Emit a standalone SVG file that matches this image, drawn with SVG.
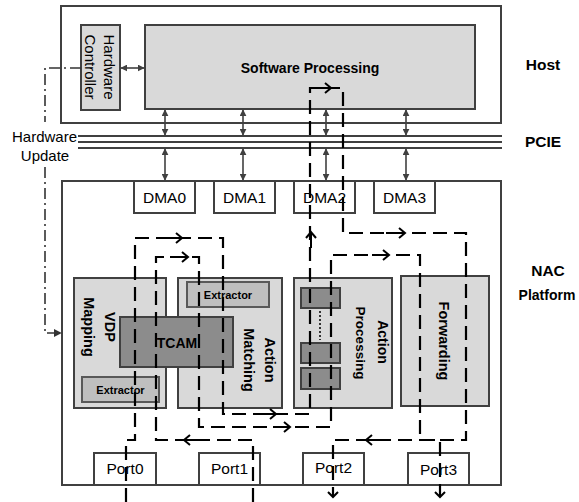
<svg xmlns="http://www.w3.org/2000/svg" width="579" height="502" viewBox="0 0 579 502">
<defs>
<style>
.box{fill:#fff;stroke:#404040;stroke-width:2}
.gray{fill:#d9d9d9;stroke:#404040;stroke-width:2}
.ext{fill:#bfbfbf;stroke:#595959;stroke-width:2}
.dark{fill:#8c8c8c;stroke:#404040;stroke-width:2}
text{font-family:"Liberation Sans",Arial,sans-serif;fill:#000}
.lbl{font-size:15.5px;text-anchor:middle}
.b{font-weight:bold}
.rc{text-anchor:middle;dominant-baseline:central}
.bus{stroke:#404040;stroke-width:2;fill:none}
.dbl{stroke:#404040;stroke-width:1.6;fill:none;marker-start:url(#ah);marker-end:url(#ah)}
.flow{stroke:#000;stroke-width:2.2;fill:none;stroke-dasharray:14 7}
.arr{stroke:#000;stroke-width:2;fill:none}
.dd{stroke:#333;stroke-width:1.6;fill:none;stroke-dasharray:11 4 2 4}
</style>
<marker id="ah" viewBox="0 0 10 10" refX="9" refY="5" markerWidth="7" markerHeight="7" markerUnits="userSpaceOnUse" orient="auto-start-reverse">
<path d="M0,0 L10,5 L0,10 Z" fill="#404040"/>
</marker>
<marker id="ah2" viewBox="0 0 10 10" refX="9" refY="5" markerWidth="8" markerHeight="8" markerUnits="userSpaceOnUse" orient="auto">
<path d="M0,0 L10,5 L0,10 Z" fill="#333"/>
</marker>
</defs>
<rect width="579" height="502" fill="#fff"/>

<g id="host">
<rect class="box" x="61" y="6" width="440" height="117"/>
<text class="b" x="543" y="70" font-size="15.5" text-anchor="middle">Host</text>
</g>
<g id="software-processing">
<rect class="gray" x="145" y="25" width="330" height="84"/>
<text class="b" x="310" y="73" font-size="14" text-anchor="middle">Software Processing</text>
</g>
<g id="hardware-controller">
<rect class="gray" x="81" y="25" width="39" height="85"/>
<text class="rc" font-size="15" transform="translate(109,67) rotate(90)">Hardware</text>
<text class="rc" font-size="15" transform="translate(90,67) rotate(90)">Controller</text>
</g>
<g id="pcie">
<path class="bus" d="M78,136 H502 M78,142 H502 M78,148 H502"/>
<text class="b" x="543" y="147" font-size="15.5" text-anchor="middle">PCIE</text>
</g>
<g id="hardware-update-label">
<text x="44.5" y="142" font-size="15" text-anchor="middle">Hardware</text>
<text x="45" y="161" font-size="15" text-anchor="middle">Update</text>
</g>
<g id="nac-platform">
<rect class="box" x="62" y="181" width="439" height="304"/>
<text class="b" x="548" y="276" font-size="15.5" text-anchor="middle">NAC</text>
<text class="b" x="547" y="300" font-size="14" text-anchor="middle">Platform</text>
</g>
<g id="dma0"><rect class="box" x="134" y="181" width="61" height="32"/><text class="lbl" x="164.5" y="203">DMA0</text></g>
<g id="dma1"><rect class="box" x="214" y="181" width="61" height="32"/><text class="lbl" x="244.5" y="203">DMA1</text></g>
<g id="dma2"><rect class="box" x="294" y="181" width="61" height="32"/><text class="lbl" x="324.5" y="203">DMA2</text></g>
<g id="dma3"><rect class="box" x="374" y="181" width="61" height="32"/><text class="lbl" x="404.5" y="203">DMA3</text></g>

<g id="vdp-mapping">
<rect class="gray" x="74" y="278" width="92" height="130"/>
<text class="rc b" font-size="14.5" transform="translate(110,327) rotate(90)">VDP</text>
<text class="rc b" font-size="14.5" transform="translate(89,327) rotate(90)">Mapping</text>
<g id="extractor-vdp">
<rect class="ext" x="82" y="377" width="77" height="25"/>
<text class="b" x="120.5" y="394" font-size="11" text-anchor="middle">Extractor</text>
</g>
</g>
<g id="action-matching">
<rect class="gray" x="178" y="278" width="104" height="130"/>
<text class="rc b" font-size="14.5" transform="translate(270,360) rotate(90)">Action</text>
<text class="rc b" font-size="14.5" transform="translate(248.5,360) rotate(90)">Matching</text>
<g id="extractor-am">
<rect class="ext" x="187" y="282" width="82" height="25"/>
<text class="b" x="228" y="299" font-size="11" text-anchor="middle">Extractor</text>
</g>
</g>
<g id="tcam">
<rect class="dark" x="120" y="317" width="113" height="50"/>
<text class="b" x="177" y="348" font-size="14" text-anchor="middle">TCAM</text>
</g>
<g id="action-processing">
<rect class="gray" x="294" y="278" width="98" height="130"/>
<rect class="dark" x="301" y="288" width="39" height="20"/>
<rect class="dark" x="301" y="343" width="39" height="20"/>
<rect class="dark" x="301" y="368" width="39" height="21"/>
<path d="M320,311 V340" stroke="#333" stroke-width="2" stroke-dasharray="2 2" fill="none"/>
<text class="rc b" font-size="14" transform="translate(382.5,342) rotate(90)">Action</text>
<text class="rc b" font-size="13.5" transform="translate(360.5,343) rotate(90)">Processing</text>
</g>
<g id="forwarding">
<rect class="gray" x="401" y="276" width="88" height="130"/>
<text class="rc b" font-size="14.5" transform="translate(443.5,341) rotate(90)">Forwarding</text>
</g>
<g id="port0"><rect class="box" x="94" y="453" width="62" height="32"/><text class="lbl" x="125" y="474">Port0</text></g>
<g id="port1"><rect class="box" x="199" y="453" width="61" height="32"/><text class="lbl" x="229.5" y="474">Port1</text></g>
<g id="port2"><rect class="box" x="303" y="453" width="61" height="32"/><text class="lbl" x="333.5" y="473">Port2</text></g>
<g id="port3"><rect class="box" x="408" y="453" width="61" height="32"/><text class="lbl" x="438.5" y="475">Port3</text></g>

<g id="connectors">
<path class="dbl" d="M121,68 H144"/>
<path class="dbl" d="M165,110 V135"/>
<path class="dbl" d="M243,110 V135"/>
<path class="dbl" d="M326,110 V135"/>
<path class="dbl" d="M406,110 V135"/>
<path class="dbl" d="M165,149 V180"/>
<path class="dbl" d="M243,149 V180"/>
<path class="dbl" d="M326,149 V180"/>
<path class="dbl" d="M406,149 V180"/>
<path class="dd" d="M81,68 H45 V122"/>
<path class="dd" d="M45,167 V333 H61" marker-end="url(#ah2)"/>
<path class="flow" d="M126,502 V440 H135 V238 H223 V414 H310 V88 H343 V233 H466 V440 H333 V496"/>
<path class="flow" d="M253,502 V440 H156 V257 H199 V427 H331 V255 H420 V440 H440 V496"/>
<path class="arr" d="M163,238 H182 M176,233 L182,238 L176,243"/>
<path class="arr" d="M170,257 H188 M182,252 L188,257 L182,262"/>
<path class="arr" d="M258,414 H276 M270,409 L276,414 L270,419"/>
<path class="arr" d="M273,427 H290 M284,422 L290,427 L284,432"/>
<path class="arr" d="M311,248 V232 M306,238 L311,232 L316,238"/>
<path class="arr" d="M312,88 H331 M325,83 L331,88 L325,93"/>
<path class="arr" d="M386,233 H405 M399,228 L405,233 L399,238"/>
<path class="arr" d="M372,255 H389 M383,250 L389,255 L383,260"/>
<path class="arr" d="M202,440 H184 M190,435 L184,440 L190,445"/>
<path class="arr" d="M383,440 H366 M372,435 L366,440 L372,445"/>
<path class="arr" d="M328,492 L333,497 L338,492"/>
<path class="arr" d="M435,492 L440,497 L445,492"/>
</g>
</svg>
